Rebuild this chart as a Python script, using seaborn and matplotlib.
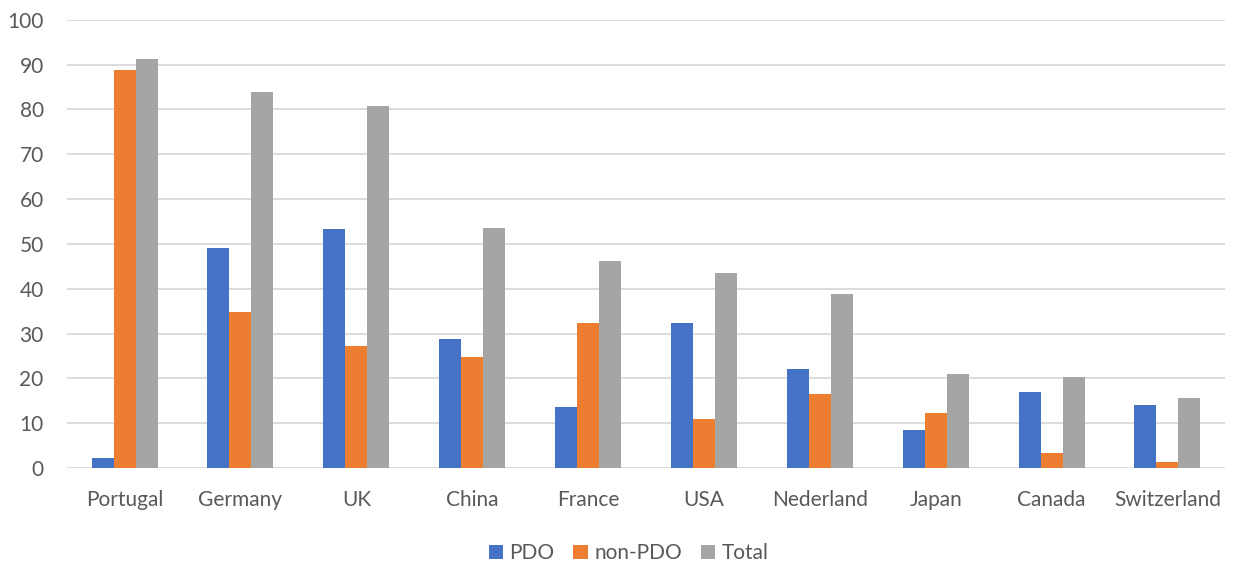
import matplotlib
matplotlib.use("Agg")
import matplotlib.pyplot as plt
import seaborn as sns
import pandas as pd

countries = ["Portugal", "Germany", "UK", "China", "France", "USA",
             "Nederland", "Japan", "Canada", "Switzerland"]
pdo = [2.3, 49.0, 53.4, 28.7, 13.7, 32.4, 22.2, 8.6, 17.0, 14.0]
non_pdo = [88.7, 34.8, 27.2, 24.8, 32.3, 11.0, 16.5, 12.3, 3.3, 1.4]
total = [91.2, 83.9, 80.7, 53.6, 46.2, 43.5, 38.8, 21.0, 20.3, 15.6]
series = ["PDO", "non-PDO", "Total"]
colors = ["#4472C4", "#ED7D31", "#A5A5A5"]

df = pd.DataFrame({
    "country": countries * 3,
    "value": pdo + non_pdo + total,
    "series": [series[0]] * 10 + [series[1]] * 10 + [series[2]] * 10,
})

sns.set_theme(style="white")
plt.rcParams["font.family"] = ["Lato", "DejaVu Sans"]
text_color = "#595959"

fig = plt.figure(figsize=(12.34, 5.66), dpi=100)
ax = fig.add_axes([0.054, 0.173, 0.939, 0.792])

sns.barplot(data=df, x="country", y="value", hue="series",
            palette=colors, width=0.57, ax=ax, saturation=1,
            edgecolor="none", legend=True)

ax.set_ylim(0, 100)
ax.set_yticks(range(0, 101, 10))
ax.set_xlim(-0.5, len(countries) - 0.5)
ax.yaxis.grid(True, color="#D9D9D9", linewidth=1.3)
ax.set_axisbelow(True)
for s in ax.spines.values():
    s.set_visible(False)
ax.tick_params(axis="both", length=0, labelsize=15, colors=text_color)
ax.tick_params(axis="y", pad=16.5)
ax.tick_params(axis="x", pad=16)
ax.set_xlabel("")
ax.set_ylabel("")

handles, labels = ax.get_legend_handles_labels()
ax.legend(handles, labels, loc="center", bbox_to_anchor=(0.485, -0.19),
          ncol=3, frameon=False, fontsize=15, handlelength=0.7,
          handleheight=0.7, handletextpad=0.3, columnspacing=0.9,
          labelcolor=text_color)

fig.savefig("out.png", dpi=100)
